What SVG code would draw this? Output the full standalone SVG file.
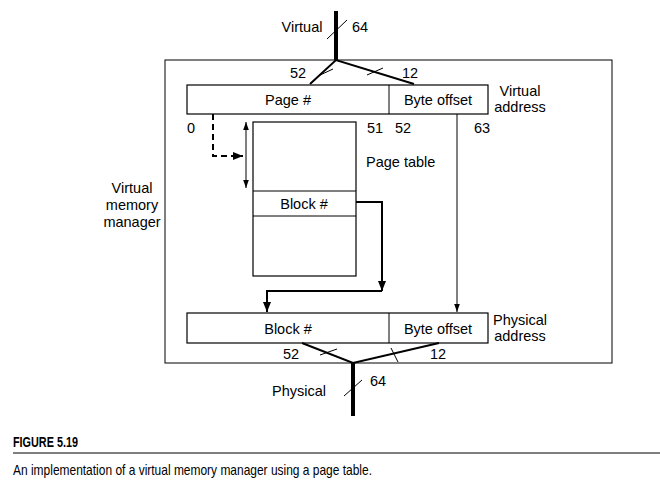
<svg xmlns="http://www.w3.org/2000/svg" width="660" height="501" viewBox="0 0 660 501">
<defs>
<style>
text{font-family:"Liberation Sans",Arial,sans-serif;font-size:14.5px;fill:#000}
.box{fill:#fff;stroke:#000;stroke-width:1.2}
.thin{stroke:#000;stroke-width:1;fill:none}
.med{stroke:#000;stroke-width:2;fill:none}
.bus{stroke:#000;stroke-width:4;fill:none}
.mid{text-anchor:middle}
</style>
<marker id="ah" viewBox="0 0 10 10" refX="10" refY="5" markerWidth="10" markerHeight="10" markerUnits="userSpaceOnUse" orient="auto-start-reverse"><path d="M0,1 L10,5 L0,9 z" fill="#000"/></marker>
<marker id="ahs" viewBox="0 0 10 10" refX="10" refY="5" markerWidth="8" markerHeight="8" markerUnits="userSpaceOnUse" orient="auto-start-reverse"><path d="M0,1.5 L10,5 L0,8.5 z" fill="#000"/></marker>
</defs>
<rect width="660" height="501" fill="#fff"/>
<g id="manager">
<rect x="165" y="60" width="447" height="303" fill="none" stroke="#000" stroke-width="1"/>
<text x="132" y="193" class="mid">Virtual</text>
<text x="132" y="210" class="mid">memory</text>
<text x="132" y="227" class="mid">manager</text>
</g>
<g id="virtual-address">
<rect x="187" y="85" width="301" height="29" class="box"/>
<line x1="389" y1="85" x2="389" y2="114" class="thin"/>
<text x="288" y="105" class="mid">Page #</text>
<text x="438" y="105" class="mid">Byte offset</text>
<text x="520" y="96" class="mid">Virtual</text>
<text x="520" y="112" class="mid">address</text>
<text x="187" y="133">0</text>
<text x="367" y="133">51</text>
<text x="395" y="133">52</text>
<text x="474" y="133">63</text>
</g>
<g id="page-table">
<rect x="253" y="122" width="103" height="154" class="box"/>
<line x1="253" y1="191" x2="356" y2="191" class="thin"/>
<line x1="253" y1="216" x2="356" y2="216" class="thin"/>
<text x="304" y="209" class="mid">Block #</text>
<text x="366" y="167">Page table</text>
</g>
<g id="physical-address">
<rect x="187" y="313" width="301" height="30" class="box"/>
<line x1="389" y1="313" x2="389" y2="343" class="thin"/>
<text x="288" y="334" class="mid">Block #</text>
<text x="438" y="334" class="mid">Byte offset</text>
<text x="520" y="325" class="mid">Physical</text>
<text x="520" y="341" class="mid">address</text>
</g>
<g id="connectors">
<line x1="336" y1="11" x2="336" y2="60" class="bus"/>
<line x1="327" y1="39" x2="347" y2="20" class="thin"/>
<text x="302" y="32" class="mid">Virtual</text>
<text x="352" y="32">64</text>
<polyline points="310,84 336,60 414,84" class="med"/>
<line x1="318" y1="76" x2="333" y2="69" class="thin"/>
<line x1="367" y1="75" x2="383" y2="68" class="thin"/>
<text x="290" y="78">52</text>
<text x="402" y="78">12</text>
<polyline points="213,114 213,156 243,156" class="med" stroke-dasharray="6,4" marker-end="url(#ah)"/>
<line x1="246" y1="122" x2="246" y2="188" class="thin" stroke-width="1.2" marker-start="url(#ahs)" marker-end="url(#ahs)"/>
<polyline points="356,202 382,202 382,291" class="med" marker-end="url(#ah)"/>
<polyline points="382,291 267,291 267,312" class="med" marker-end="url(#ah)"/>
<line x1="457" y1="114" x2="457" y2="312" class="thin" marker-end="url(#ahs)"/>
<polyline points="302,343 353,363 439,343" class="med"/>
<line x1="320" y1="355" x2="337" y2="349" class="thin"/>
<line x1="391" y1="348" x2="398" y2="362" class="thin"/>
<text x="283" y="359">52</text>
<text x="430" y="359">12</text>
<line x1="353" y1="363" x2="353" y2="416" class="bus"/>
<line x1="344" y1="396" x2="362" y2="380" class="thin"/>
<text x="370" y="386">64</text>
<text x="299" y="396" class="mid">Physical</text>
</g>
<g id="caption">
<text x="13" y="447" font-weight="bold" font-size="16.5" textLength="65" lengthAdjust="spacingAndGlyphs">FIGURE 5.19</text>
<line x1="13" y1="453" x2="660" y2="453" stroke="#000" stroke-width="1.2"/>
<text x="13" y="475" font-size="17.5" textLength="359" lengthAdjust="spacingAndGlyphs">An implementation of a virtual memory manager using a page table.</text>
</g>
</svg>
